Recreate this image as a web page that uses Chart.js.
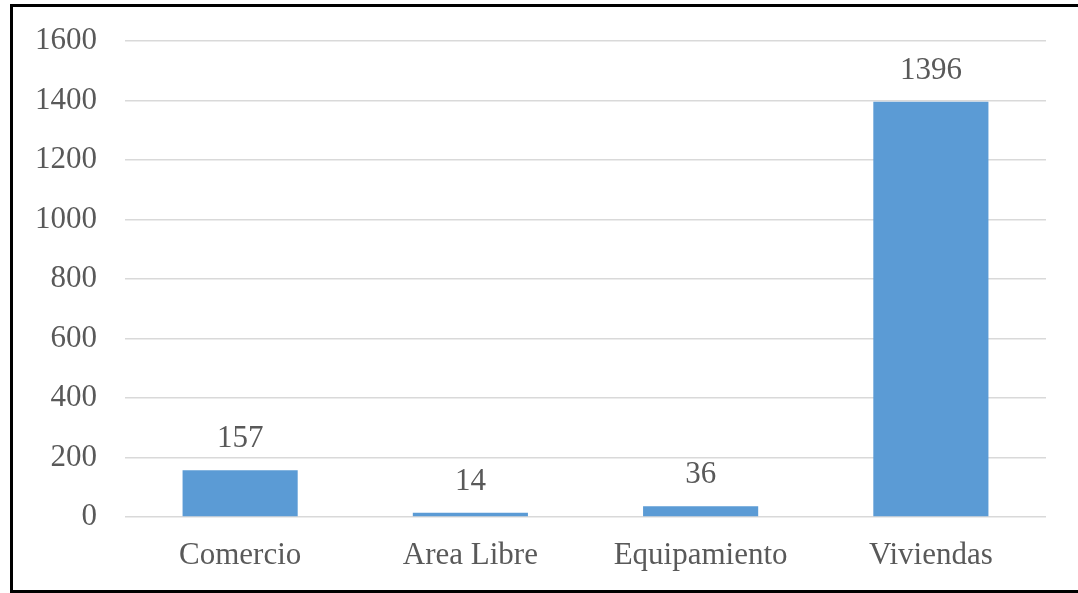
<!DOCTYPE html>
<html>
<head>
<meta charset="utf-8">
<script src="https://cdn.jsdelivr.net/npm/chart.js@4/dist/chart.umd.min.js"></script>
<style>
    body { margin: 0; background: #fff; }
    #marco {
        position: absolute;
        left: 10px;
        top: 4px;
        width: 1068px;
        height: 583px;
        border-left: 3px solid #000;
        border-top: 3px solid #000;
        border-bottom: 3px solid #000;
        box-sizing: content-box;
    }
    #marco canvas { display: block; }
</style>
</head>
<body>
<div id="marco"><canvas id="grafico" width="1065" height="583"></canvas></div>
<script>
const categorias = ['Comercio', 'Area Libre', 'Equipamiento', 'Viviendas'];
const valores = [157, 14, 36, 1396];

const colorTexto = '#595959';
const fuente = 'Liberation Serif, "Times New Roman", serif';

// etiquetas de valor encima de cada barra
const etiquetasBarras = {
    id: 'etiquetasBarras',
    afterDatasetsDraw(chart) {
        const ctx = chart.ctx;
        const meta = chart.getDatasetMeta(0);
        ctx.save();
        ctx.font = '31px ' + fuente;
        ctx.fillStyle = colorTexto;
        ctx.textAlign = 'center';
        ctx.textBaseline = 'middle';
        meta.data.forEach((barra, i) => {
            ctx.fillText(chart.data.datasets[0].data[i], barra.x, barra.y - 31);
        });
        ctx.restore();
    }
};

new Chart(document.getElementById('grafico').getContext('2d'), {
    type: 'bar',
    data: {
        labels: categorias,
        datasets: [{
            data: valores,
            backgroundColor: '#5B9BD5',
            barPercentage: 0.5,
            categoryPercentage: 1
        }]
    },
    options: {
        responsive: false,
        animation: false,
        layout: {
            padding: { top: 0, right: 32, left: 0, bottom: 0 }
        },
        plugins: {
            legend: { display: false },
            tooltip: { enabled: false }
        },
        scales: {
            x: {
                grid: { display: false, drawTicks: false },
                border: { display: false },
                ticks: {
                    color: colorTexto,
                    font: { family: fuente, size: 31 },
                    padding: 20
                },
                afterFit(scale) { scale.height = 73; }
            },
            y: {
                min: 0,
                max: 1600,
                ticks: {
                    stepSize: 200,
                    color: colorTexto,
                    font: { family: fuente, size: 31 },
                    padding: 28,
                    callback: (v) => String(v)
                },
                grid: { color: '#d9d9d9', lineWidth: 1.5, drawTicks: false },
                border: { display: false },
                afterFit(scale) {
                    scale.width = 112;
                    scale.paddingTop = 34;
                    scale.paddingBottom = 0;
                }
            }
        }
    },
    plugins: [etiquetasBarras]
});
</script>
</body>
</html>
